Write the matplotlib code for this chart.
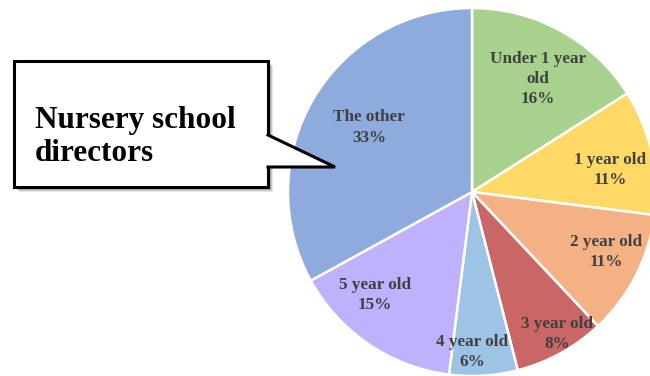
import numpy as np
import matplotlib
matplotlib.use("Agg")
import matplotlib.pyplot as plt
from matplotlib.patches import Polygon, Rectangle

# Age groups of children in the care of nursery school directors
categories = ["Under 1 year\nold", "1 year old", "2 year old", "3 year old",
              "4 year old", "5 year old", "The other"]
shares = [16, 11, 11, 8, 6, 15, 33]
colors = ["#A9D18E", "#FFD966", "#F4B183", "#CB6666",
          "#9DC3E6", "#C0B1FD", "#8FAADC"]

# label placement: fraction of radius and angular nudge (degrees)
label_r = [0.71, 0.76, 0.80, 0.90, 0.87, 0.77, 0.66]
label_da = [-1.5, -3.5, 3.0, 2.0, -3.5, -9.0, -1.5]

W, H = 650, 376
fig = plt.figure(figsize=(W / 100, H / 100), dpi=100)
ax = fig.add_axes([0, 0, 1, 1])

cx, cy, R = 472, H - 192, 184
wedges, _ = ax.pie(shares, colors=colors, startangle=90, counterclock=False,
                   center=(cx, cy), radius=R, frame=True,
                   wedgeprops=dict(edgecolor="white", linewidth=1.8))
ax.set_xlim(0, W)
ax.set_ylim(0, H)
ax.set_aspect("equal")
ax.axis("off")

serif = ["Liberation Serif", "DejaVu Serif"]
for w, cat, val, fr, da in zip(wedges, categories, shares, label_r, label_da):
    mid = np.deg2rad((w.theta1 + w.theta2) / 2 + da)
    x = cx + fr * R * np.cos(mid)
    y = cy + fr * R * np.sin(mid)
    ax.text(x, y, f"{cat}\n{val}%", ha="center", va="center",
            fontsize=12.3, fontweight="bold", color="#404040",
            family=serif, linespacing=1.35)

# speech-bubble callout
bx0, bx1, by0, by1 = 14, 268, H - 187, H - 61
tip = (335, H - 167)
for off, alpha in [(5, 0.10), (4, 0.12), (3, 0.15), (2, 0.18)]:
    ax.add_patch(Rectangle((bx0 + off, by0 - off), bx1 - bx0, by1 - by0,
                           facecolor="black", alpha=alpha, edgecolor="none",
                           zorder=4))
ax.add_patch(Rectangle((bx0, by0), bx1 - bx0, by1 - by0, facecolor="white",
                       edgecolor="black", linewidth=2.2, zorder=5))
ax.add_patch(Polygon([(bx1, H - 135), tip, (bx1, H - 167)], closed=True,
                     facecolor="white", edgecolor="none", zorder=6))
ax.plot([bx1, tip[0], bx1], [H - 135, tip[1], H - 167], color="black",
        linewidth=2.2, zorder=7, solid_joinstyle="miter")
ax.plot([bx1, bx1], [H - 135 - 1.5, H - 167 + 1.5], color="white",
        linewidth=3, zorder=6.5)
ax.text(35, H - 137, "Nursery school\ndirectors", ha="left", va="center",
        fontsize=22.5, fontweight="bold", color="black", family=serif,
        linespacing=1.15, zorder=8)

fig.savefig("out.png", dpi=100)
